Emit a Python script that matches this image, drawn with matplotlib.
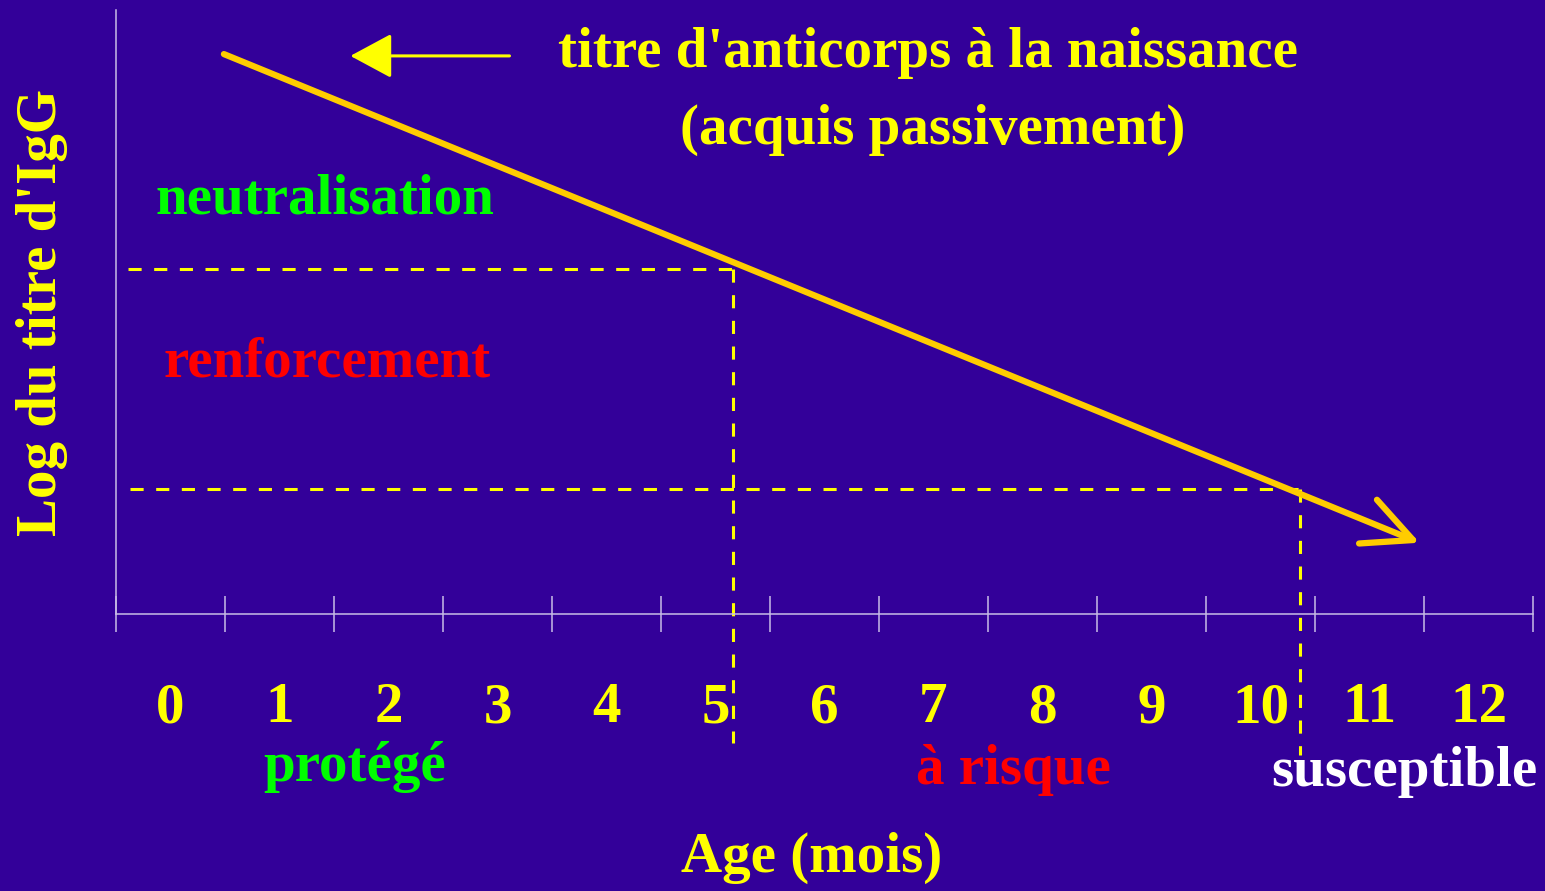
import matplotlib
matplotlib.use('Agg')
import matplotlib.pyplot as plt
import numpy as np

# age in months (category labels under the axis)
ages = ['0', '1', '2', '3', '4', '5', '6', '7', '8', '9', '10', '11', '12']

# passive antibody titre: start and end of the decline (log units)
titre_x = [0.99, 11.96]
titre_y = [9.27, 1.18]

# thresholds
seuil_neutralisation = 5.71
age_neutralisation = 5.66
seuil_susceptible = 2.07
age_susceptible = 10.86

bg = '#330099'
axis_col = '#c8bce6'
yellow = '#ffff00'
orange = '#ffcc00'
fs = 41

plt.rcParams['font.family'] = ['Liberation Serif', 'DejaVu Serif']
plt.rcParams['font.weight'] = 'bold'
plt.rcParams['axes.labelweight'] = 'bold'

fig = plt.figure(figsize=(15.45, 8.91), dpi=100, facecolor=bg)
ax = fig.add_axes([116 / 1545, 277 / 891, 1417 / 1545, 604 / 891])
ax.set_facecolor(bg)
ax.set_xlim(0, 13)
ax.set_ylim(0, 10)

for s in ['top', 'right']:
    ax.spines[s].set_visible(False)
for s in ['left', 'bottom']:
    ax.spines[s].set_color(axis_col)
    ax.spines[s].set_linewidth(1.1)

ax.set_yticks([])
ax.set_xticks(np.arange(14))
ax.set_xticklabels([])
ax.tick_params(axis='x', which='major', direction='inout', length=26, width=1.1, color=axis_col)
ax.set_xticks(np.arange(13) + 0.5, minor=True)
ax.set_xticklabels(ages, minor=True)
ax.tick_params(axis='x', which='minor', length=0, pad=49, labelsize=fs, labelcolor=yellow)

# main decline line with open arrowhead
ax.annotate('', xy=(titre_x[1], titre_y[1]), xytext=(titre_x[0], titre_y[0]),
            arrowprops=dict(arrowstyle='->,head_length=3.5,head_width=1.7', mutation_scale=10,
                            color=orange, lw=4.5, shrinkA=0, shrinkB=0,
                            capstyle='round', joinstyle='round'))

# small arrow pointing to birth titre
ax.annotate('', xy=(2.15, 9.24), xytext=(3.61, 9.24),
            arrowprops=dict(arrowstyle='-|>,head_length=2.6,head_width=1.4', mutation_scale=10,
                            color=yellow, lw=2.2, shrinkA=0, shrinkB=0))

dash = (0, (4.3, 4.1))
ax.plot([0.11, age_neutralisation], [seuil_neutralisation] * 2, color=yellow, lw=2.2, ls=dash)
ax.plot([0.13, age_susceptible], [seuil_susceptible] * 2, color=yellow, lw=2.2, ls=dash)
ax.plot([age_neutralisation] * 2, [seuil_neutralisation, -2.14], color=yellow, lw=2.2, ls=dash, clip_on=False)
ax.plot([age_susceptible] * 2, [seuil_susceptible, -2.33], color=yellow, lw=2.2, ls=dash, clip_on=False)

ax.text(7.45, 9.29, "titre d'anticorps à la naissance", color=yellow, fontsize=fs,
        ha='center', va='center')
ax.text(7.49, 8.01, "(acquis passivement)", color=yellow, fontsize=fs, ha='center', va='center')
ax.text(1.92, 6.87, 'neutralisation', color='#00ff00', fontsize=fs, ha='center', va='center')
ax.text(1.94, 4.16, 'renforcement', color='#ff0000', fontsize=fs, ha='center', va='center')
ax.text(2.19, -2.53, 'protégé', color='#00ff00', fontsize=fs, ha='center', va='center', clip_on=False)
ax.text(8.23, -2.58, 'à risque', color='#ff0000', fontsize=fs, ha='center', va='center', clip_on=False)
ax.text(11.82, -2.62, 'susceptible', color='white', fontsize=fs, ha='center', va='center', clip_on=False)

ax.set_xlabel('Age (mois)', color=yellow, fontsize=fs, fontweight='bold')
ax.xaxis.set_label_coords(0.491, -0.404)
ax.xaxis.label.set_va('center')
ax.set_ylabel("Log du titre d'IgG", color=yellow, fontsize=fs, fontweight='bold')
ax.yaxis.set_label_coords(-0.0522, 0.5)
ax.yaxis.label.set_va('center')

fig.savefig('out.png', dpi=100, facecolor=bg)
